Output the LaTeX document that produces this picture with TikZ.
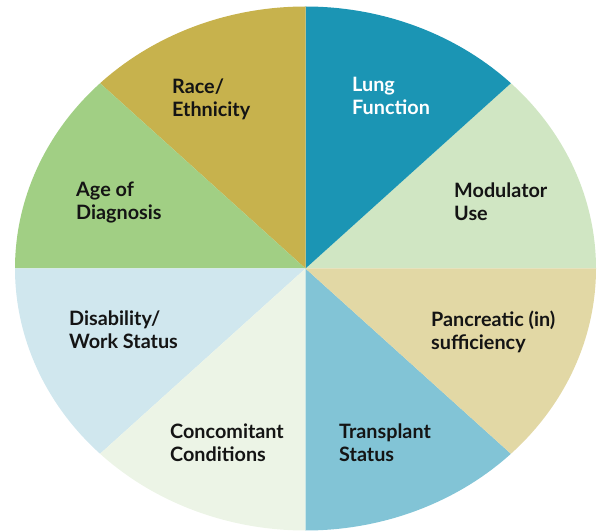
\documentclass[tikz,border=0pt]{standalone}
\usepackage{fontspec}
\newfontfamily\labelfont{Lato}
\definecolor{cRace}{HTML}{C7B24D}
\definecolor{cLung}{HTML}{1B95B4}
\definecolor{cMod}{HTML}{D0E6C3}
\definecolor{cPanc}{HTML}{E2D8A5}
\definecolor{cTrans}{HTML}{82C4D6}
\definecolor{cConc}{HTML}{ECF4E6}
\definecolor{cDis}{HTML}{D0E7EE}
\definecolor{cAge}{HTML}{A1CF84}
\definecolor{ink}{HTML}{141414}
\begin{document}
\begin{tikzpicture}[x=1pt,y=1pt,
  lbl/.style={anchor=base west, align=left, inner sep=0pt, text=ink,
    font=\labelfont\bfseries\fontsize{19.8}{23}\selectfont}]
\useasboundingbox (0,0) rectangle (600,531);
\coordinate (c) at (305.5,262.5);
% eight equal slices of the elliptical pie
\foreach \col/\a in {cMod/0,cLung/45,cRace/90,cAge/135,cDis/180,cConc/225,cTrans/270,cPanc/315}{
  \fill[\col] (c) -- ++(\a:290.5pt and 262pt)
    arc[start angle=\a, end angle=\a+45, x radius=290.5pt, y radius=262pt] -- cycle;
}
% slice labels (anchored at the baseline of their last line)
\node[lbl] (race) at (172,414) {Race/\\Ethnicity};
\node[lbl, text=white] (lung) at (352,416) {Lung\\Function};
\node[lbl] (age) at (76,311) {Age of\\Diagnosis};
\node[lbl] (mod) at (454,310) {Modulator\\Use};
\node[lbl] (dis) at (69,183) {Disability/\\Work Status};
\node[lbl] (panc) at (431,182) {Pancreatic (in)\\sufficiency};
\node[lbl] (conc) at (170,70) {Concomitant\\Conditions};
\node[lbl] (trans) at (339,70) {Transplant\\Status};
\end{tikzpicture}
\end{document}
